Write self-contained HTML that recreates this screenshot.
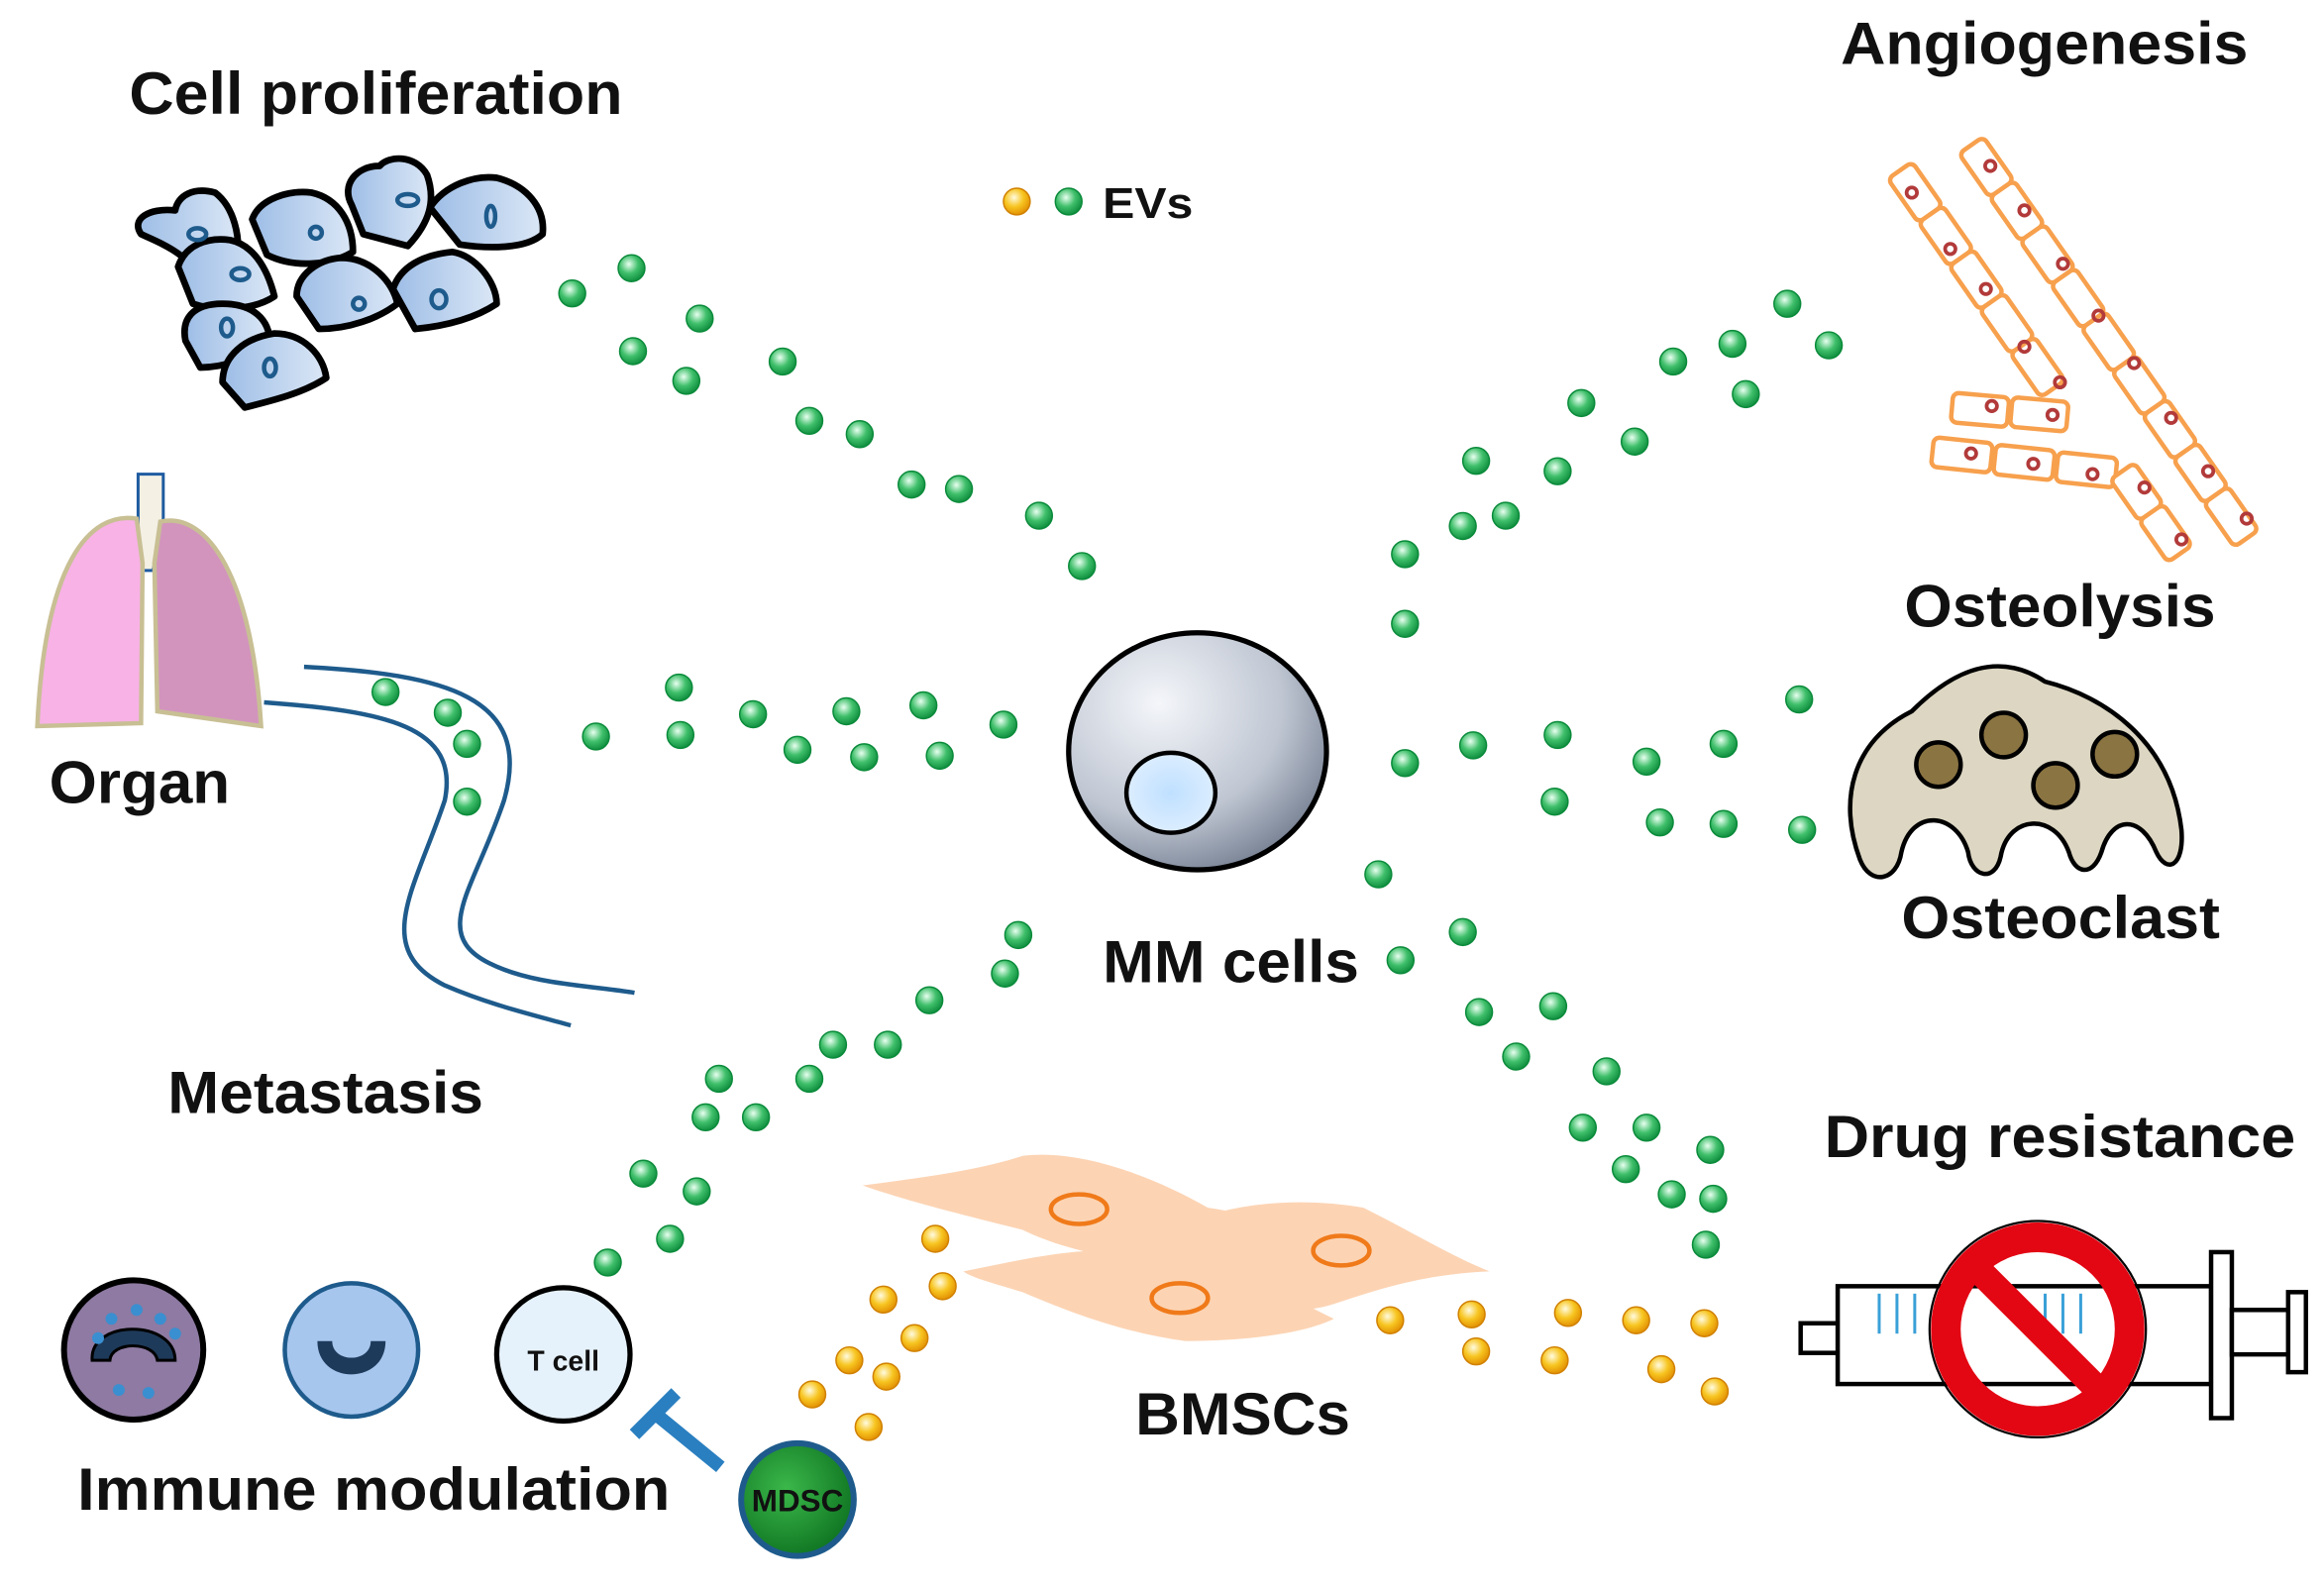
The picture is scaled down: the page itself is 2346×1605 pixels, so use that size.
<!DOCTYPE html>
<html><head><meta charset="utf-8"><style>
html,body{margin:0;padding:0;background:#fff}
svg{display:block}
text{font-family:"Liberation Sans",sans-serif;font-weight:bold;fill:#111}
</style></head><body>
<svg width="2346" height="1605" viewBox="0 0 1568 1073" xmlns="http://www.w3.org/2000/svg">
<defs>
<radialGradient id="g" cx="0.4" cy="0.35" r="0.7"><stop offset="0" stop-color="#e8fff0"/><stop offset="0.5" stop-color="#3fbf6a"/><stop offset="1" stop-color="#0a8a3a"/></radialGradient>
<radialGradient id="o" cx="0.4" cy="0.35" r="0.7"><stop offset="0" stop-color="#fffbe0"/><stop offset="0.5" stop-color="#f7c520"/><stop offset="1" stop-color="#e08a00"/></radialGradient>
<linearGradient id="cb" x1="0" y1="0" x2="1" y2="0"><stop offset="0" stop-color="#9dbde6"/><stop offset="1" stop-color="#dbe7f6"/></linearGradient>
<radialGradient id="mm" cx="0.35" cy="0.3" r="0.8"><stop offset="0" stop-color="#f4f6fa"/><stop offset="0.6" stop-color="#bfc6d2"/><stop offset="1" stop-color="#6c778a"/></radialGradient>
<radialGradient id="nu" cx="0.5" cy="0.5" r="0.6"><stop offset="0" stop-color="#bfe0ff"/><stop offset="1" stop-color="#e2f0ff"/></radialGradient>
<radialGradient id="md" cx="0.4" cy="0.4" r="0.7"><stop offset="0" stop-color="#3bb84a"/><stop offset="1" stop-color="#0b6e1e"/></radialGradient>
</defs>

<!-- text labels -->
<text x="87" y="77" font-size="40" textLength="333" lengthAdjust="spacingAndGlyphs">Cell proliferation</text>
<text x="1242" y="43" font-size="40" textLength="275" lengthAdjust="spacingAndGlyphs">Angiogenesis</text>
<text x="744" y="147" font-size="29" textLength="61" lengthAdjust="spacingAndGlyphs">EVs</text>
<text x="1285" y="423" font-size="40" textLength="210" lengthAdjust="spacingAndGlyphs">Osteolysis</text>
<text x="33" y="542" font-size="40" textLength="122" lengthAdjust="spacingAndGlyphs">Organ</text>
<text x="1283" y="633" font-size="40" textLength="215" lengthAdjust="spacingAndGlyphs">Osteoclast</text>
<text x="744" y="663" font-size="40" textLength="173" lengthAdjust="spacingAndGlyphs">MM cells</text>
<text x="113" y="751" font-size="40" textLength="213" lengthAdjust="spacingAndGlyphs">Metastasis</text>
<text x="1231" y="781" font-size="40" textLength="318" lengthAdjust="spacingAndGlyphs">Drug resistance</text>
<text x="766" y="968" font-size="40" textLength="145" lengthAdjust="spacingAndGlyphs">BMSCs</text>
<text x="52" y="1019" font-size="40" textLength="400" lengthAdjust="spacingAndGlyphs">Immune modulation</text>

<!-- proliferating cells -->
<g stroke="#000" stroke-width="4.5" stroke-linejoin="round" fill="url(#cb)">
<path d="M140 192 C125 170 110 165 95 158 C88 148 100 140 118 142 C120 132 130 126 145 130 C158 140 162 160 160 175 Z"/>
<path d="M237 138 C230 125 240 112 256 112 C262 105 280 104 288 118 C294 135 290 150 275 166 L245 158 Z"/>
<path d="M290 140 C300 125 320 118 335 120 C355 125 368 140 366 158 C355 168 330 168 310 165 L298 150 Z"/>
<path d="M170 148 C175 134 195 128 210 130 C228 134 238 150 238 170 C225 178 200 182 180 172 Z"/>
<path d="M120 180 C125 165 140 160 155 162 C170 165 180 180 185 200 C170 210 145 210 130 205 Z"/>
<path d="M200 200 C200 185 215 175 230 174 C250 174 265 190 268 205 C255 215 235 222 215 222 Z"/>
<path d="M265 195 C270 180 285 172 305 170 C320 172 335 190 335 205 C320 215 300 220 280 222 Z"/>
<path d="M125 230 C122 215 130 205 150 205 C170 205 182 215 182 232 C170 242 150 248 135 248 Z"/>
<path d="M150 258 C150 240 165 228 185 225 C205 225 218 240 220 255 C205 265 185 270 165 275 Z"/>
</g>
<g fill="none" stroke="#1e5b8c" stroke-width="3">
<ellipse cx="133" cy="158" rx="6" ry="4"/><ellipse cx="275" cy="135" rx="7" ry="4"/><ellipse cx="331" cy="146" rx="3" ry="7"/>
<ellipse cx="213" cy="157" rx="4" ry="4"/><ellipse cx="162" cy="185" rx="6" ry="4"/><ellipse cx="242" cy="205" rx="4" ry="4"/>
<ellipse cx="296" cy="202" rx="5" ry="6"/><ellipse cx="153" cy="221" rx="4" ry="6"/><ellipse cx="182" cy="248" rx="4" ry="6"/>
</g>

<!-- lungs -->
<path d="M93 330 L93 320 L110 320 L110 350 L103 385 L93 385 Z" fill="#f4f0e4" stroke="#1e5ba0" stroke-width="2"/>
<path d="M92 350 C60 345 30 380 25 490 L95 488 L96 380 Z" fill="#f8b2e6" stroke="#c8bf94" stroke-width="3"/>
<path d="M108 352 C140 345 170 390 176 490 L106 480 L104 380 Z" fill="#d294bd" stroke="#c8bf94" stroke-width="3"/>

<!-- vessels -->
<g fill="none" stroke="#1e5b8c" stroke-width="3">
<path d="M205 450 C300 455 360 470 340 540 C320 600 290 630 330 650 C360 665 400 665 428 670"/>
<path d="M178 474 C260 480 310 490 300 540 C280 600 250 640 300 665 C330 678 360 685 385 692"/>
</g>

<!-- angiogenesis -->
<g fill="#fff" stroke="#f7a04d" stroke-width="3">
<g transform="translate(1282,115) rotate(55)">
<rect x="0" y="-10" width="36" height="20" rx="4"/><rect x="36" y="-10" width="36" height="20" rx="4"/><rect x="72" y="-10" width="36" height="20" rx="4"/><rect x="108" y="-10" width="36" height="20" rx="4"/><rect x="144" y="-10" width="36" height="20" rx="4"/></g>
<g transform="translate(1330,98) rotate(55)">
<rect x="0" y="-10" width="36" height="20" rx="4"/><rect x="36" y="-10" width="36" height="20" rx="4"/><rect x="72" y="-10" width="36" height="20" rx="4"/><rect x="108" y="-10" width="36" height="20" rx="4"/><rect x="144" y="-10" width="36" height="20" rx="4"/><rect x="180" y="-10" width="36" height="20" rx="4"/><rect x="216" y="-10" width="36" height="20" rx="4"/><rect x="252" y="-10" width="36" height="20" rx="4"/><rect x="288" y="-10" width="36" height="20" rx="4"/></g>
<rect x="1318" y="265" width="38" height="20" rx="4" transform="rotate(5 1318 265)"/><rect x="1358" y="268" width="38" height="20" rx="4" transform="rotate(5 1358 268)"/>
<rect x="1305" y="295" width="40" height="20" rx="4" transform="rotate(6 1305 295)"/><rect x="1347" y="300" width="40" height="20" rx="4" transform="rotate(6 1347 300)"/><rect x="1389" y="305" width="40" height="20" rx="4" transform="rotate(6 1389 305)"/>
<g transform="translate(1432,318) rotate(55)"><rect x="0" y="-10" width="34" height="20" rx="4"/><rect x="34" y="-10" width="34" height="20" rx="4"/></g>
</g>
<g fill="none" stroke="#b23a3a" stroke-width="2.5">
<circle cx="1290" cy="130" r="3.5"/><circle cx="1316" cy="168" r="3.5"/><circle cx="1340" cy="195" r="3.5"/><circle cx="1366" cy="234" r="3.5"/><circle cx="1390" cy="258" r="3.5"/>
<circle cx="1343" cy="112" r="3.5"/><circle cx="1366" cy="142" r="3.5"/><circle cx="1392" cy="178" r="3.5"/><circle cx="1416" cy="213" r="3.5"/><circle cx="1440" cy="245" r="3.5"/><circle cx="1465" cy="282" r="3.5"/><circle cx="1490" cy="318" r="3.5"/><circle cx="1516" cy="350" r="3.5"/>
<circle cx="1344" cy="274" r="3.5"/><circle cx="1385" cy="280" r="3.5"/><circle cx="1330" cy="306" r="3.5"/><circle cx="1372" cy="313" r="3.5"/><circle cx="1412" cy="320" r="3.5"/><circle cx="1447" cy="329" r="3.5"/><circle cx="1472" cy="364" r="3.5"/>
</g>

<!-- osteoclast -->
<path d="M1255 580 C1240 540 1250 500 1290 480 C1320 450 1350 440 1380 460 C1420 470 1465 500 1472 560 C1474 585 1462 590 1455 575 C1445 550 1425 550 1418 575 C1412 592 1400 590 1396 575 C1386 548 1355 550 1350 578 C1346 596 1330 592 1328 575 C1320 548 1290 545 1283 575 C1280 595 1262 598 1255 580 Z" fill="#dcd6c2" stroke="#000" stroke-width="3"/>
<g fill="#8a7442" stroke="#000" stroke-width="3"><circle cx="1308" cy="516" r="15"/><circle cx="1352" cy="496" r="15"/><circle cx="1387" cy="530" r="15"/><circle cx="1427" cy="509" r="15"/></g>

<!-- MM cell -->
<ellipse cx="808" cy="507" rx="87" ry="80" fill="url(#mm)" stroke="#000" stroke-width="3.5"/>
<ellipse cx="790" cy="535" rx="30" ry="27" fill="url(#nu)" stroke="#000" stroke-width="3"/>

<!-- BMSCs -->
<g fill="#fcd4b4">
<path d="M582 800 C620 795 660 790 690 780 C730 775 780 795 815 815 C850 820 870 830 880 850 C900 860 840 860 800 860 C760 850 720 845 690 830 C650 820 610 810 582 800 Z"/>
<path d="M790 830 C830 810 880 808 920 815 C950 830 980 848 1005 858 C960 860 930 870 900 880 C870 890 830 880 800 870 Z"/>
<path d="M650 858 C690 850 730 840 770 845 C820 850 860 870 900 890 C880 900 840 905 800 905 C760 900 720 885 690 872 C670 866 655 862 650 858 Z"/>
</g>
<g fill="none" stroke="#f07a1a" stroke-width="3"><ellipse cx="728" cy="816" rx="19" ry="10"/><ellipse cx="905" cy="844" rx="19" ry="10"/><ellipse cx="796" cy="876" rx="19" ry="10"/></g>

<!-- syringe -->
<g fill="#fff" stroke="#000" stroke-width="3">
<rect x="1215" y="893" width="26" height="20"/>
<rect x="1240" y="868" width="252" height="66"/>
<rect x="1492" y="845" width="14" height="112"/>
<rect x="1506" y="884" width="40" height="30"/>
<rect x="1544" y="872" width="12" height="54"/>
</g>
<g stroke="#3aa0d8" stroke-width="2"><line x1="1268" y1="873" x2="1268" y2="900"/><line x1="1280" y1="873" x2="1280" y2="900"/><line x1="1292" y1="873" x2="1292" y2="900"/><line x1="1380" y1="873" x2="1380" y2="900"/><line x1="1392" y1="873" x2="1392" y2="900"/><line x1="1404" y1="873" x2="1404" y2="900"/></g>
<circle cx="1375" cy="897" r="62" fill="none" stroke="#e30613" stroke-width="20"/>
<line x1="1330" y1="852" x2="1420" y2="942" stroke="#e30613" stroke-width="18"/>
<circle cx="1375" cy="897" r="73" fill="none" stroke="#000" stroke-width="1.5"/>

<!-- immune cells -->
<circle cx="90" cy="911" r="47" fill="#8e7aa2" stroke="#000" stroke-width="4"/>
<path d="M62 918 C60 890 118 890 118 918 L106 918 C104 905 75 905 74 918 Z" fill="#1e3a5a" stroke="#000" stroke-width="2"/>
<g fill="#3a8fd0"><circle cx="75" cy="890" r="4"/><circle cx="92" cy="884" r="4"/><circle cx="108" cy="890" r="4"/><circle cx="118" cy="900" r="4"/><circle cx="66" cy="903" r="4"/><circle cx="80" cy="938" r="4"/><circle cx="100" cy="940" r="4"/></g>
<circle cx="237" cy="911" r="45" fill="#a7c6ee" stroke="#1e5b8c" stroke-width="3"/>
<path d="M214 905 C214 935 260 935 260 905 L250 905 C250 920 224 920 224 905 Z" fill="#1e3a5a"/>
<circle cx="380" cy="914" r="45" fill="#e6f2fb" stroke="#000" stroke-width="3.5"/>
<text x="380" y="925" font-size="19" text-anchor="middle" font-weight="normal">T cell</text>
<line x1="486" y1="990" x2="442" y2="954" stroke="#2a7fc0" stroke-width="9"/>
<line x1="428" y1="968" x2="456" y2="940" stroke="#2a7fc0" stroke-width="9"/>
<circle cx="538" cy="1012" r="38" fill="url(#md)" stroke="#1e5b8c" stroke-width="4"/>
<text x="538" y="1020" font-size="21" text-anchor="middle" fill="#111">MDSC</text>

<!-- EVs legend -->
<circle cx="686" cy="136" r="9" fill="url(#o)" stroke="#d08000"/>
<circle cx="721" cy="136" r="9" fill="url(#g)" stroke="#0a8a3a"/>

<g fill="url(#g)" stroke="#0a8a3a" stroke-width="1">
<circle cx="386" cy="198" r="9"/><circle cx="426" cy="181" r="9"/><circle cx="472" cy="215" r="9"/><circle cx="427" cy="237" r="9"/><circle cx="463" cy="257" r="9"/><circle cx="528" cy="244" r="9"/><circle cx="546" cy="284" r="9"/><circle cx="580" cy="293" r="9"/><circle cx="615" cy="327" r="9"/><circle cx="647" cy="330" r="9"/><circle cx="701" cy="348" r="9"/><circle cx="730" cy="382" r="9"/>
<circle cx="260" cy="467" r="9"/><circle cx="302" cy="481" r="9"/><circle cx="315" cy="502" r="9"/><circle cx="315" cy="541" r="9"/><circle cx="402" cy="497" r="9"/><circle cx="458" cy="464" r="9"/><circle cx="459" cy="496" r="9"/><circle cx="508" cy="482" r="9"/><circle cx="538" cy="506" r="9"/><circle cx="571" cy="480" r="9"/><circle cx="583" cy="511" r="9"/><circle cx="623" cy="476" r="9"/><circle cx="634" cy="510" r="9"/><circle cx="677" cy="489" r="9"/>
<circle cx="948" cy="421" r="9"/><circle cx="948" cy="374" r="9"/><circle cx="987" cy="355" r="9"/><circle cx="1016" cy="348" r="9"/><circle cx="996" cy="311" r="9"/><circle cx="1051" cy="318" r="9"/><circle cx="1067" cy="272" r="9"/><circle cx="1103" cy="298" r="9"/><circle cx="1129" cy="244" r="9"/><circle cx="1169" cy="232" r="9"/><circle cx="1178" cy="266" r="9"/><circle cx="1206" cy="205" r="9"/><circle cx="1234" cy="233" r="9"/>
<circle cx="948" cy="515" r="9"/><circle cx="994" cy="503" r="9"/><circle cx="1051" cy="496" r="9"/><circle cx="1049" cy="541" r="9"/><circle cx="1111" cy="514" r="9"/><circle cx="1120" cy="555" r="9"/><circle cx="1163" cy="502" r="9"/><circle cx="1163" cy="556" r="9"/><circle cx="1214" cy="472" r="9"/><circle cx="1216" cy="560" r="9"/>
<circle cx="930" cy="590" r="9"/><circle cx="945" cy="648" r="9"/><circle cx="987" cy="629" r="9"/><circle cx="998" cy="683" r="9"/><circle cx="1048" cy="679" r="9"/><circle cx="1023" cy="713" r="9"/><circle cx="1084" cy="723" r="9"/><circle cx="1068" cy="761" r="9"/><circle cx="1111" cy="761" r="9"/><circle cx="1154" cy="776" r="9"/><circle cx="1097" cy="789" r="9"/><circle cx="1128" cy="806" r="9"/><circle cx="1156" cy="809" r="9"/><circle cx="1151" cy="840" r="9"/>
<circle cx="687" cy="631" r="9"/><circle cx="678" cy="657" r="9"/><circle cx="627" cy="675" r="9"/><circle cx="599" cy="705" r="9"/><circle cx="562" cy="705" r="9"/><circle cx="546" cy="728" r="9"/><circle cx="485" cy="728" r="9"/><circle cx="476" cy="754" r="9"/><circle cx="510" cy="754" r="9"/><circle cx="434" cy="792" r="9"/><circle cx="470" cy="804" r="9"/><circle cx="452" cy="836" r="9"/><circle cx="410" cy="852" r="9"/>
</g>
<g fill="url(#o)" stroke="#d08000" stroke-width="1">
<circle cx="631" cy="836" r="9"/><circle cx="636" cy="868" r="9"/><circle cx="596" cy="877" r="9"/><circle cx="617" cy="903" r="9"/><circle cx="573" cy="918" r="9"/><circle cx="598" cy="929" r="9"/><circle cx="548" cy="941" r="9"/><circle cx="586" cy="963" r="9"/>
<circle cx="938" cy="891" r="9"/><circle cx="993" cy="887" r="9"/><circle cx="996" cy="912" r="9"/><circle cx="1058" cy="886" r="9"/><circle cx="1049" cy="918" r="9"/><circle cx="1104" cy="891" r="9"/><circle cx="1150" cy="893" r="9"/><circle cx="1121" cy="924" r="9"/><circle cx="1157" cy="939" r="9"/>
</g>
</svg>
</body></html>
